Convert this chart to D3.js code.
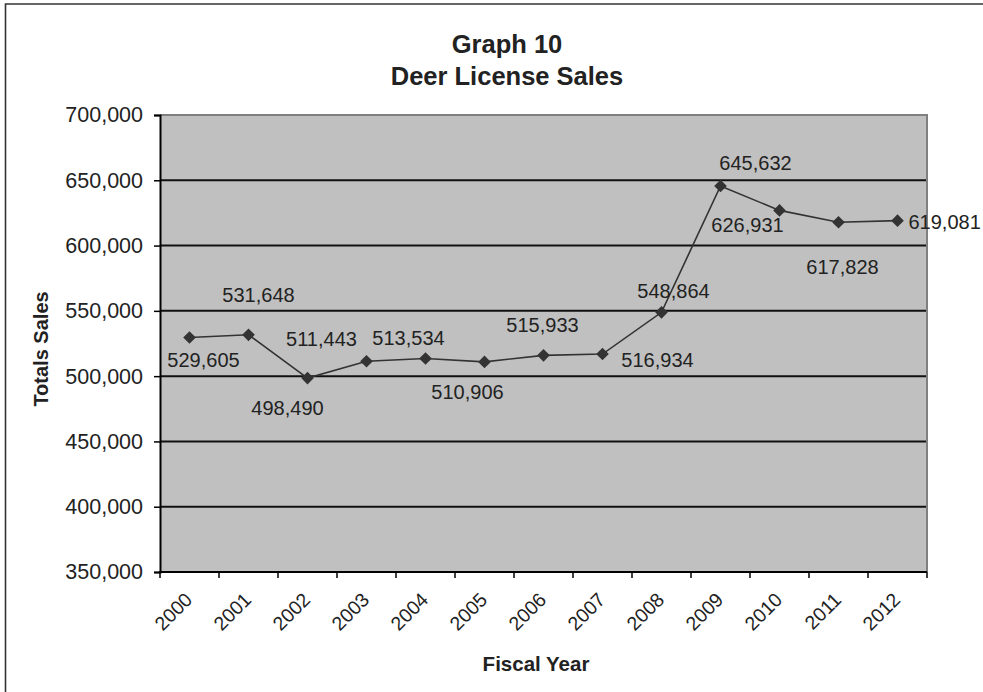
<!DOCTYPE html>
<html>
<head>
<meta charset="utf-8">
<script src="https://cdn.jsdelivr.net/npm/d3@7"></script>
<style>
  html, body { margin: 0; background: #fff; overflow: hidden; }
  svg { display: block; }
  text { font-family: "Liberation Sans", Arial, sans-serif; fill: #222; }
</style>
</head>
<body>
<div id="chart"></div>
<script>
// data
var years = ["2000","2001","2002","2003","2004","2005","2006","2007","2008","2009","2010","2011","2012"];
var sales = [529605, 531648, 498490, 511443, 513534, 510906, 515933, 516934, 548864, 645632, 626931, 617828, 619081];
var yTicks = [350000, 400000, 450000, 500000, 550000, 600000, 650000, 700000];

// where each value label sits relative to its point (dx, dy, anchor)
var labelOffsets = [
	[14, 23, "middle"], [10, -40, "middle"], [-20, 30, "middle"], [-45, -22, "middle"],
	[-17, -20, "middle"], [-17, 30, "middle"], [-1, -30, "middle"], [55, 6, "middle"],
	[12, -21, "middle"], [35, -23, "middle"], [-32, 15, "middle"], [4, 45, "middle"],
	[11, 1, "start"]
];

// set the specs
var width = 983;
var height = 692;
var marginLeft = 160;
var marginRight = 927;
var marginTop = 115;
var marginBottom = 572;

var svg = d3.select("#chart")
	.append("svg")
	.attr("width", width)
	.attr("height", height);

// outer frame: only the top and left edges show
svg.append("path")
	.attr("d", "M5.5," + height + "V4H" + width)
	.attr("fill", "none")
	.attr("stroke", "#333")
	.attr("stroke-width", 1.6);

var xScale = d3.scaleBand()
	.domain(years)
	.range([marginLeft, marginRight])
	.padding(0);

var yScale = d3.scaleLinear()
	.domain([350000, 700000])
	.range([marginBottom, marginTop]);

// plot background
svg.append("rect")
	.attr("x", marginLeft).attr("y", marginTop)
	.attr("width", marginRight - marginLeft)
	.attr("height", marginBottom - marginTop)
	.attr("fill", "#c0c0c0");

// gridlines
svg.selectAll("line.grid")
	.data(yTicks.slice(1, -1))
	.enter()
	.append("line")
	.attr("class", "grid")
	.attr("x1", marginLeft).attr("x2", marginRight)
	.attr("y1", function(d){ return yScale(d); })
	.attr("y2", function(d){ return yScale(d); })
	.attr("stroke", "#111")
	.attr("stroke-width", 2);

// top and right border in gray
svg.append("path")
	.attr("d", "M" + marginLeft + "," + marginTop + "H" + marginRight + "V" + marginBottom)
	.attr("fill", "none")
	.attr("stroke", "#808080")
	.attr("stroke-width", 2);

// y axis
var yAxis = d3.axisLeft(yScale)
	.tickValues(yTicks)
	.tickSize(6)
	.tickPadding(11)
	.tickFormat(d3.format(","));

var gy = svg.append("g")
	.attr("transform", "translate(" + marginLeft + ",0)")
	.call(yAxis);
gy.select(".domain").attr("stroke", "#000").attr("stroke-width", 2);
gy.selectAll(".tick line").attr("stroke", "#000").attr("stroke-width", 1.5);
gy.selectAll(".tick text")
	.style("font-size", "21.5px")
	.style("font-family", "'Liberation Sans', Arial, sans-serif")
	.attr("fill", "#222");

// x axis: ticks at the category edges
var edges = years.map(function(d){ return xScale(d); }).concat([marginRight]);
var gx = svg.append("g");
gx.append("line")
	.attr("x1", marginLeft - 1).attr("x2", marginRight)
	.attr("y1", marginBottom).attr("y2", marginBottom)
	.attr("stroke", "#000").attr("stroke-width", 2);
gx.selectAll("line.tick")
	.data(edges)
	.enter()
	.append("line")
	.attr("class", "tick")
	.attr("x1", function(d){ return d; }).attr("x2", function(d){ return d; })
	.attr("y1", marginBottom).attr("y2", marginBottom + 6)
	.attr("stroke", "#000").attr("stroke-width", 1.5);
gx.selectAll("text")
	.data(years)
	.enter()
	.append("text")
	.attr("transform", function(d){
		var cx = xScale(d) + xScale.bandwidth() / 2;
		return "translate(" + (cx + 4) + "," + (marginBottom + 29) + ") rotate(-45)";
	})
	.attr("text-anchor", "end")
	.style("font-size", "19.5px")
	.text(function(d){ return d; });

// the line
var cx = function(d, i){ return xScale(years[i]) + xScale.bandwidth() / 2; };
var line = d3.line()
	.x(cx)
	.y(function(d){ return yScale(d); });

svg.append("path")
	.datum(sales)
	.attr("d", line)
	.attr("fill", "none")
	.attr("stroke", "#333")
	.attr("stroke-width", 1.6);

// diamond markers
svg.selectAll("path.marker")
	.data(sales)
	.enter()
	.append("path")
	.attr("class", "marker")
	.attr("d", d3.symbol().type(d3.symbolSquare).size(80))
	.attr("transform", function(d, i){
		return "translate(" + cx(d, i) + "," + yScale(d) + ") rotate(45)";
	})
	.attr("fill", "#333");

// value labels
svg.selectAll("text.value")
	.data(sales)
	.enter()
	.append("text")
	.attr("class", "value")
	.attr("x", function(d, i){ return cx(d, i) + labelOffsets[i][0]; })
	.attr("y", function(d, i){ return yScale(d) + labelOffsets[i][1]; })
	.attr("dy", "0.35em")
	.attr("text-anchor", function(d, i){ return labelOffsets[i][2]; })
	.style("font-size", "20px")
	.text(d3.format(","));

// titles
svg.append("text")
	.attr("x", 507).attr("y", 53)
	.attr("text-anchor", "middle")
	.style("font-size", "25.5px").style("font-weight", "bold")
	.text("Graph 10");
svg.append("text")
	.attr("x", 507).attr("y", 85)
	.attr("text-anchor", "middle")
	.style("font-size", "25.5px").style("font-weight", "bold")
	.text("Deer License Sales");

svg.append("text")
	.attr("transform", "translate(48,349) rotate(-90)")
	.attr("text-anchor", "middle")
	.style("font-size", "20px").style("font-weight", "bold")
	.text("Totals Sales");

svg.append("text")
	.attr("x", 536).attr("y", 671)
	.attr("text-anchor", "middle")
	.style("font-size", "20.5px").style("font-weight", "bold")
	.text("Fiscal Year");
</script>
</body>
</html>
